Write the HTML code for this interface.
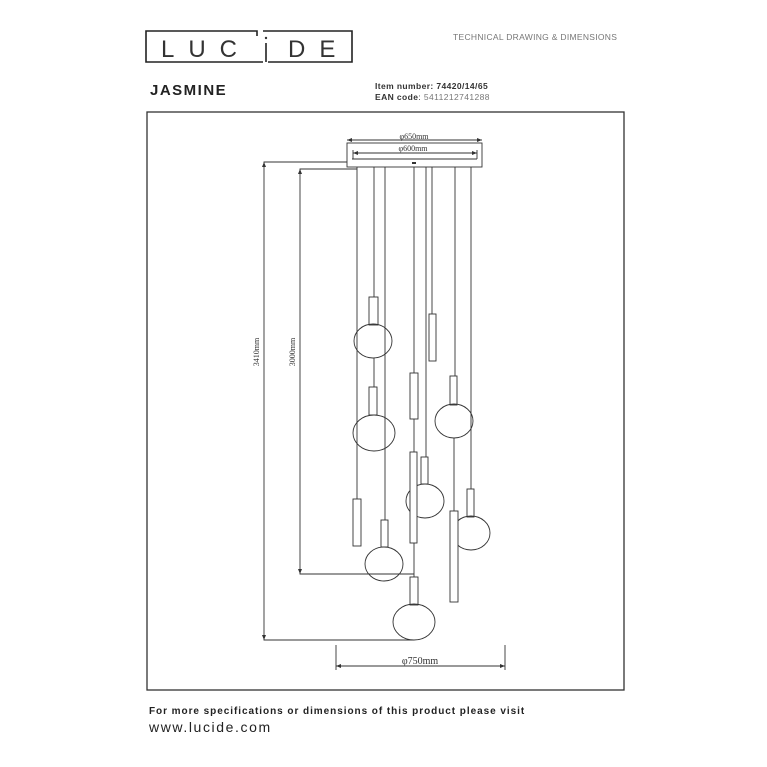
<!DOCTYPE html>
<html><head><meta charset="utf-8"><style>
html,body{margin:0;padding:0;background:#fff;}
svg{display:block;}
</style></head><body>
<svg width="767" height="767" viewBox="0 0 767 767" xmlns="http://www.w3.org/2000/svg">
<rect width="767" height="767" fill="#fff"/>
<!-- logo -->
<g fill="none" stroke="#222" stroke-width="1.6">
<path d="M257 36 V31 H146 V62 H263"/>
<path d="M263 31 H352 V62 H268"/>
<path d="M266 43 V62"/>
</g>
<text x="161" y="57" font-family="Liberation Sans, sans-serif" font-size="24" fill="#333" letter-spacing="14">LUC</text>
<text x="288" y="57" font-family="Liberation Sans, sans-serif" font-size="24" fill="#333" letter-spacing="14">DE</text>
<circle cx="266" cy="38" r="1.2" fill="#333"/>
<text x="453" y="40" font-family="Liberation Sans, sans-serif" font-size="8.5" fill="#777" letter-spacing="0.3">TECHNICAL DRAWING &amp; DIMENSIONS</text>
<text x="150" y="95" font-family="Liberation Sans, sans-serif" font-size="15" font-weight="bold" fill="#222" letter-spacing="1.5">JASMINE</text>
<text x="375" y="89" font-family="Liberation Sans, sans-serif" font-size="8.5" font-weight="bold" fill="#333" letter-spacing="0.4">Item number: 74420/14/65</text>
<text x="375" y="100" font-family="Liberation Sans, sans-serif" font-size="8.5" fill="#333" letter-spacing="0.4"><tspan font-weight="bold">EAN code</tspan>: <tspan fill="#777">5411212741288</tspan></text>
<!-- frame -->
<rect x="147" y="112" width="477" height="578" fill="none" stroke="#333" stroke-width="1.3"/>
<g fill="none" stroke="#333" stroke-width="0.9">
<rect x="347" y="143" width="135" height="24"/>
<line x1="352" y1="159" x2="477" y2="159"/>
<line x1="347" y1="140" x2="482" y2="140"/>
<line x1="353" y1="153" x2="477" y2="153"/>
<line x1="353" y1="150" x2="353" y2="159"/>
<line x1="477" y1="150" x2="477" y2="159"/>
<polyline points="347,162 264,162 264,640 414,640"/>
<polyline points="357,169 300,169 300,574 414,574"/>
<line x1="336" y1="645" x2="336" y2="670"/>
<line x1="505" y1="645" x2="505" y2="670"/>
<line x1="336" y1="666" x2="505" y2="666"/>
<line x1="357" y1="167" x2="357" y2="499"/>
<line x1="374" y1="167" x2="374" y2="297"/>
<line x1="374" y1="358" x2="374" y2="387"/>
<line x1="385" y1="167" x2="385" y2="520"/>
<line x1="414" y1="167" x2="414" y2="373"/>
<line x1="414" y1="419" x2="414" y2="452"/>
<line x1="414" y1="543" x2="414" y2="577"/>
<line x1="426" y1="167" x2="426" y2="457"/>
<line x1="432" y1="167" x2="432" y2="314"/>
<line x1="455" y1="167" x2="455" y2="376"/>
<line x1="454" y1="438" x2="454" y2="511"/>
<line x1="471" y1="167" x2="471" y2="489"/>
<rect x="369" y="297" width="9" height="28" fill="#fff"/>
<rect x="369" y="387" width="8" height="28" fill="#fff"/>
<rect x="353" y="499" width="8" height="47" fill="#fff"/>
<rect x="381" y="520" width="7" height="27" fill="#fff"/>
<rect x="410" y="373" width="8" height="46" fill="#fff"/>
<rect x="421" y="457" width="7" height="27" fill="#fff"/>
<rect x="429" y="314" width="7" height="47" fill="#fff"/>
<rect x="450" y="376" width="7" height="29" fill="#fff"/>
<rect x="467" y="489" width="7" height="28" fill="#fff"/>
<rect x="410" y="577" width="8" height="28" fill="#fff"/>
<ellipse cx="373" cy="341" rx="19" ry="17"/>
<ellipse cx="374" cy="433" rx="21" ry="18"/>
<ellipse cx="425" cy="501" rx="19" ry="17"/>
<ellipse cx="454" cy="421" rx="19" ry="17"/>
<ellipse cx="471" cy="533" rx="19" ry="17"/>
<ellipse cx="384" cy="564" rx="19" ry="17"/>
<ellipse cx="414" cy="622" rx="21" ry="18"/>
<rect x="410" y="452" width="7" height="91" fill="#fff"/>
<rect x="450" y="511" width="8" height="91" fill="#fff"/>
</g>
<rect x="412" y="162" width="4" height="2" fill="#333"/>
<g fill="#333">
<path d="M264 162 l-2 5 h4z"/><path d="M264 640 l-2 -5 h4z"/>
<path d="M300 169 l-2 5 h4z"/><path d="M300 574 l-2 -5 h4z"/>
<path d="M336 666 l5 -2 v4z"/><path d="M505 666 l-5 -2 v4z"/>
<path d="M347 140 l5 -2 v4z"/><path d="M482 140 l-5 -2 v4z"/>
<path d="M353 153 l5 -2 v4z"/><path d="M477 153 l-5 -2 v4z"/>
</g>
<g font-family="Liberation Serif, serif" fill="#333">
<text x="414" y="139" font-size="8" text-anchor="middle">φ650mm</text>
<text x="413" y="151" font-size="8" text-anchor="middle">φ600mm</text>
<text x="420" y="664" font-size="10" text-anchor="middle">φ750mm</text>
<text transform="translate(259,352) rotate(-90)" font-size="8" text-anchor="middle">3410mm</text>
<text transform="translate(295,352) rotate(-90)" font-size="8" text-anchor="middle">3000mm</text>
</g>
<text x="149" y="714" font-family="Liberation Sans, sans-serif" font-size="10" font-weight="bold" fill="#222" letter-spacing="0.95">For more specifications or dimensions of this product please visit</text>
<text x="149" y="732" font-family="Liberation Sans, sans-serif" font-size="14" fill="#222" letter-spacing="1.6">www.lucide.com</text>
</svg>
</body></html>
